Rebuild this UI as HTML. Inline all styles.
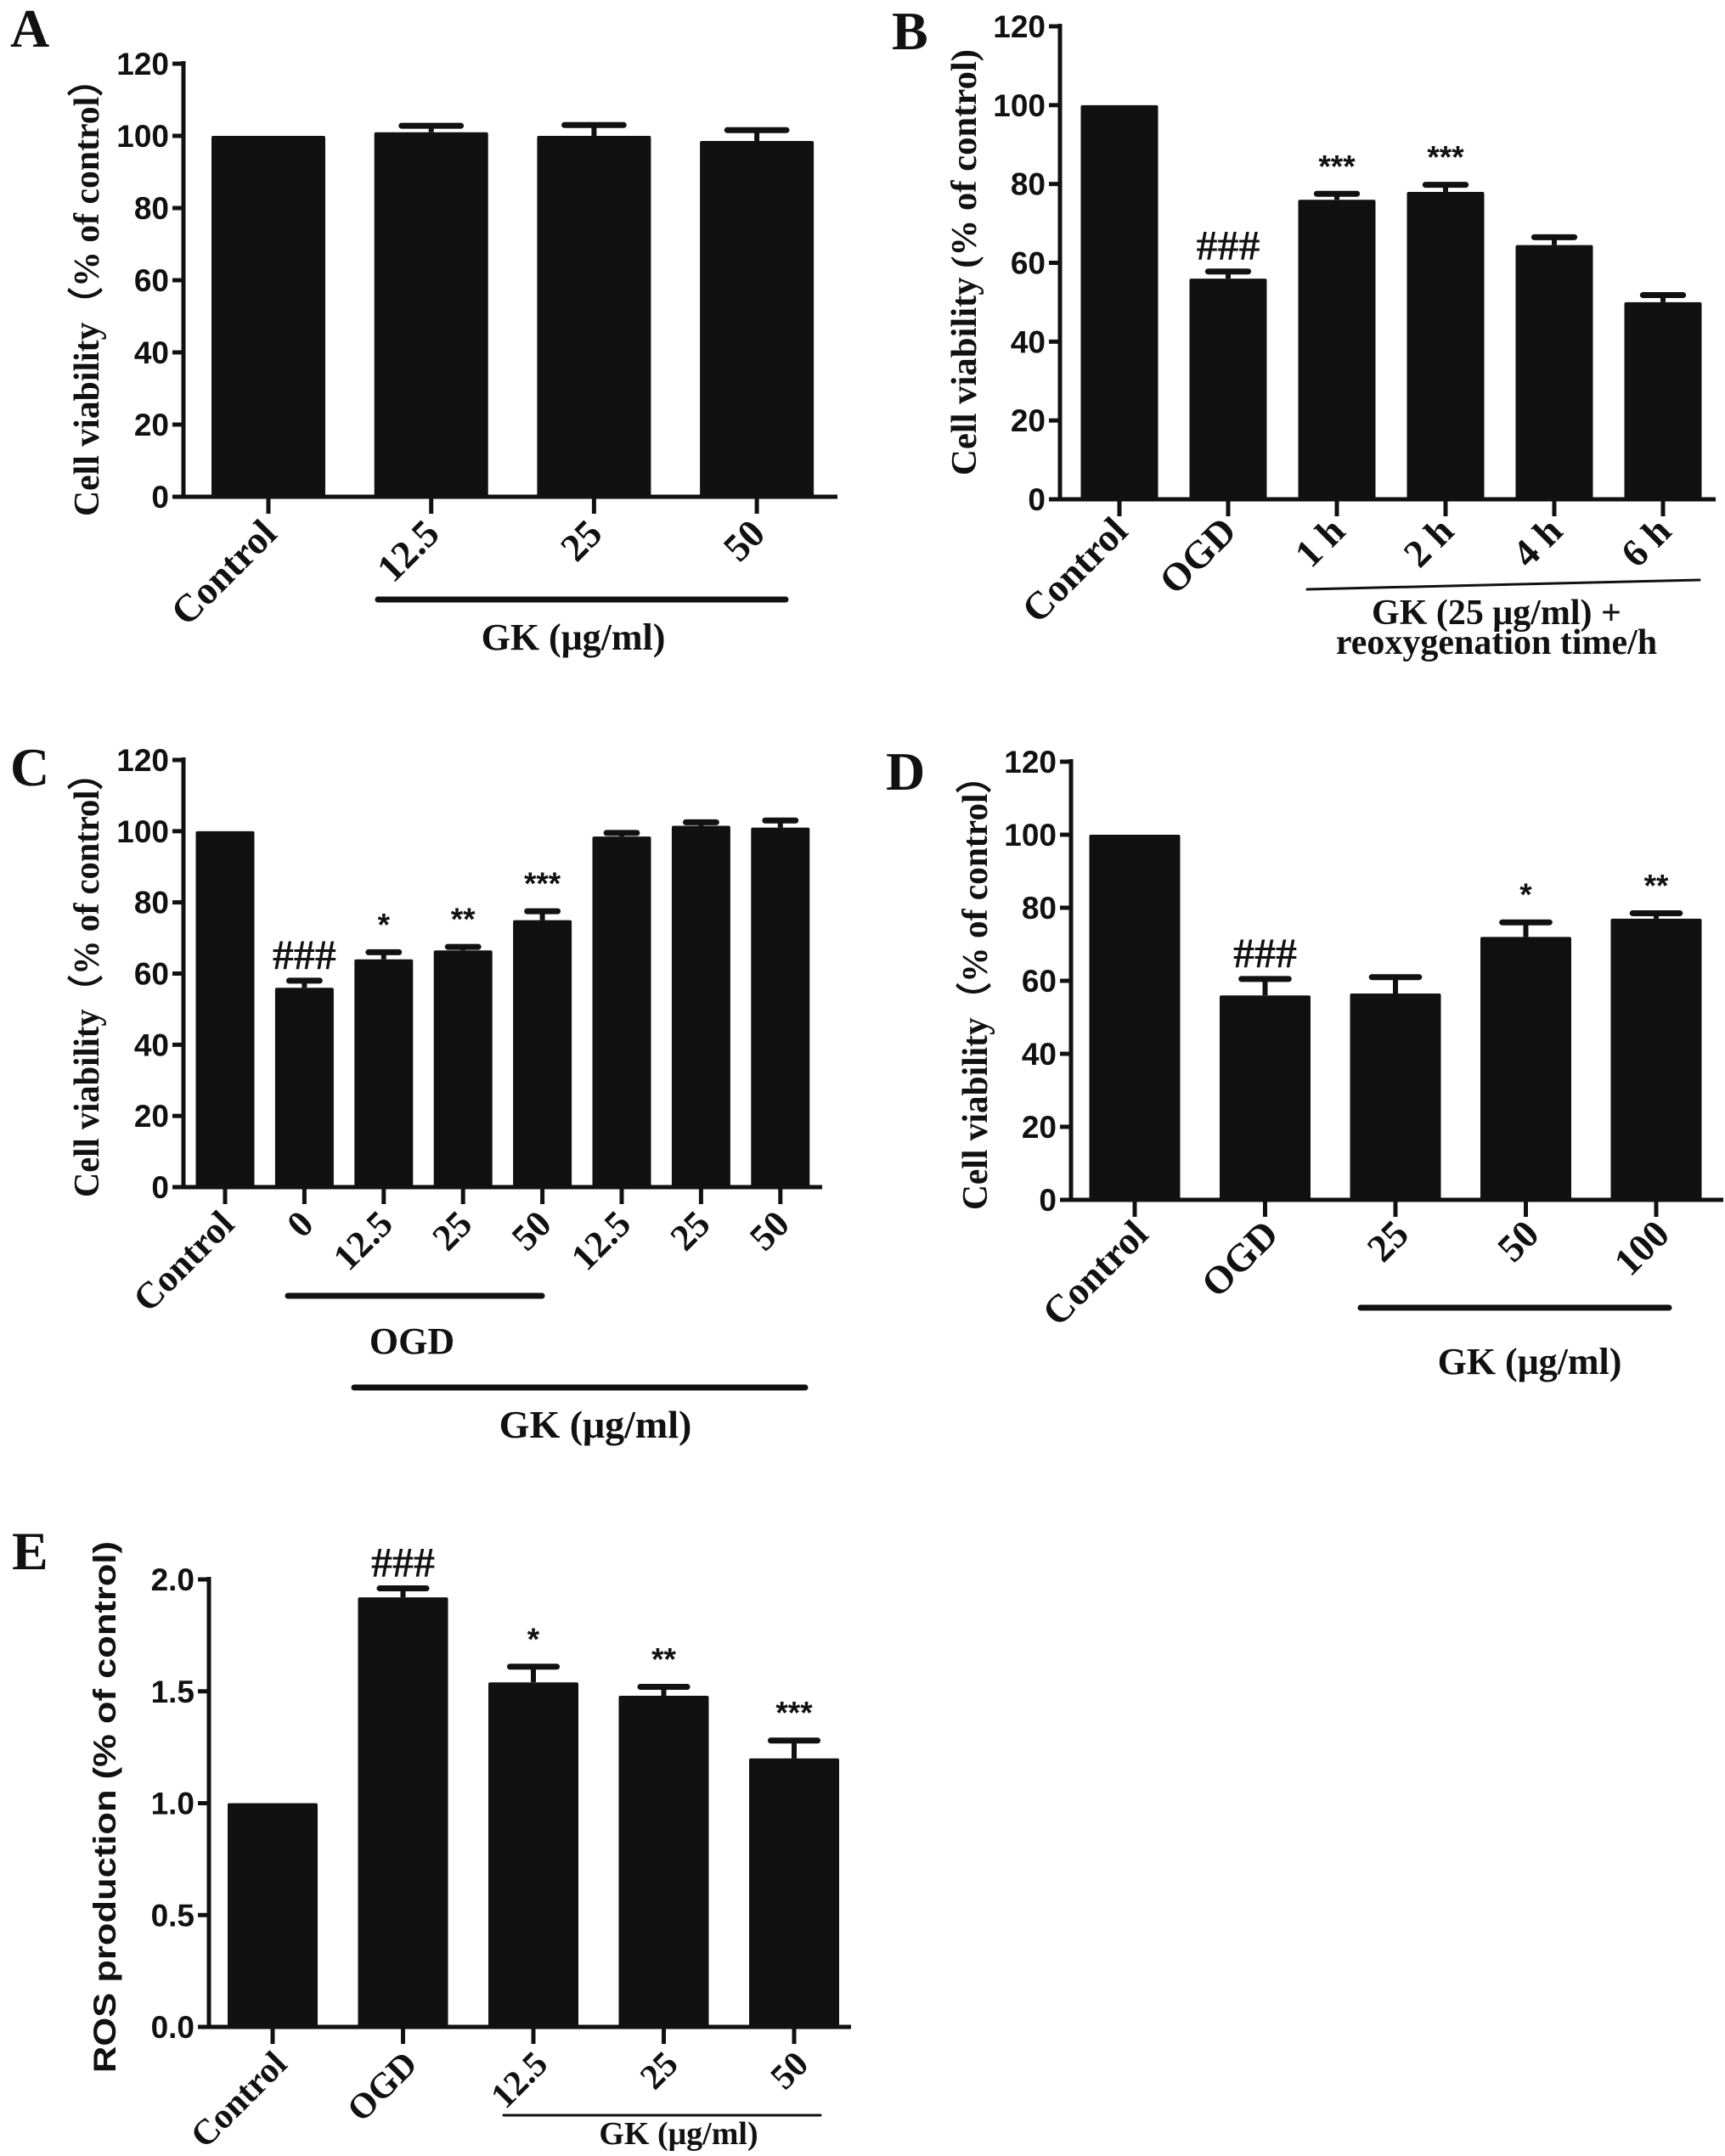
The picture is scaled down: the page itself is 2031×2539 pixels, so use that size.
<!DOCTYPE html>
<html><head><meta charset="utf-8">
<style>
html,body{margin:0;padding:0;background:#fff;}
svg{display:block;}
.tk{font-family:"Liberation Sans",Arial,sans-serif;font-weight:bold;font-size:37px;fill:#111;}
.sr{font-family:"Liberation Serif","Times New Roman",serif;font-weight:bold;fill:#111;}
</style></head>
<body>
<svg id="fig" width="2031" height="2539" viewBox="0 0 2031 2539" xmlns="http://www.w3.org/2000/svg"></svg>
<script>
// Panel A
const catsA=["Control","12.5","25","50"];
const valsA=[100,101,100,98.6];
const errsA=[0,1.8,3,3];
const annA=["","","",""];
// Panel B
const catsB=["Control","OGD","1 h","2 h","4 h","6 h"];
const valsB=[100,56,76,78,64.5,50];
const errsB=[0,1.8,1.5,1.8,2,1.8];
const annB=["","###","***","***","",""];
// Panel C
const catsC=["Control","0","12.5","25","50","12.5","25","50"];
const valsC=[100,56,64,66.5,75,98.5,101.5,101];
const errsC=[0,2,2,1,2.5,1,1,2];
const annC=["","###","*","**","***","","",""];
// Panel D
const catsD=["Control","OGD","25","50","100"];
const valsD=[100,56,56.5,72,77];
const errsD=[0,4.5,4.5,4,1.5];
const annD=["","###","","*","**"];
// Panel E
const catsE=["Control","OGD","12.5","25","50"];
const valsE=[1.0,1.92,1.54,1.48,1.2];
const errsE=[0,0.04,0.07,0.04,0.08];
const annE=["","###","*","**","***"];
const ticksV=[0,20,40,60,80,100,120];
const ticksE=["0.0","0.5","1.0","1.5","2.0"];

const NS="http://www.w3.org/2000/svg";
const svg=document.getElementById('fig');
function mk(tag,attrs,parent,txt){const e=document.createElementNS(NS,tag);for(const k in attrs)e.setAttribute(k,attrs[k]);if(txt!==undefined)e.textContent=txt;(parent||svg).appendChild(e);return e;}

function panel(p){
  const g=mk('g',{});
  
  
  const y=v=>p.y0-(v-p.vmin)/(p.vmax-p.vmin)*(p.y0-p.ytop);
  const x=i=>p.x0c+i*p.step;
  p.vals.forEach((v,i)=>{
    const r=mk('rect',{x:x(i)-p.bw/2,y:y(v),width:p.bw,height:p.y0-y(v),fill:'#111',rx:2},g);
    
    
    if(p.errs[i]>0){
      const e=mk('g',{},g);
      
      
      mk('line',{x1:x(i),x2:x(i),y1:y(v),y2:y(v+p.errs[i]),stroke:'#111','stroke-width':6},e);
      mk('line',{x1:x(i)-p.bw*0.26,x2:x(i)+p.bw*0.26,y1:y(v+p.errs[i]),y2:y(v+p.errs[i]),stroke:'#111','stroke-width':7,'stroke-linecap':'round'},e);
    }
    if(p.ann[i]){
      const top=y(v+p.errs[i]);
      const isHash=p.ann[i][0]==='#';
      const t=mk('text',{x:x(i),y:isHash?top-14:top-20,'text-anchor':'middle',class:isHash?'sr':'tk','font-size':isHash?50:76},g,p.ann[i]);
      
      
    }
  });
  const ax=mk('g',{},g);
  
  
  mk('line',{x1:p.ax,x2:p.ax,y1:p.ytop-3,y2:p.y0+2,stroke:'#111','stroke-width':5},ax);
  mk('line',{x1:p.ax-2,x2:p.axEnd,y1:p.y0,y2:p.y0,stroke:'#111','stroke-width':5},ax);
  p.ticks.forEach((t,k)=>{
    const v=p.vmin+k*(p.vmax-p.vmin)/(p.ticks.length-1);
    mk('line',{x1:p.ax-13,x2:p.ax,y1:y(v),y2:y(v),stroke:'#111','stroke-width':5},ax);
    const tl=mk('text',{x:p.ax-17,y:y(v)+13,'text-anchor':'end',class:'tk'},ax,t);
    
    
  });
  p.cats.forEach((c,i)=>{
    mk('line',{x1:x(i),x2:x(i),y1:p.y0,y2:p.y0+20,stroke:'#111','stroke-width':5},ax);
    const ex=x(i)+p.lx, ey=p.y0+p.ly;
    const tl=mk('text',{x:ex,y:ey,'text-anchor':'end',class:'sr','font-size':p.lfs,transform:`rotate(-45 ${ex} ${ey})`},ax,c);
    
    
  });
  const cy=(p.tyA+p.tyB)/2;
  const yt=mk('text',{x:p.tx,y:cy,'text-anchor':'middle',class:p.tsans?'tk':'sr','font-size':p.tfs,transform:`rotate(-90 ${p.tx} ${cy})`,textLength:p.tyB-p.tyA,lengthAdjust:'spacingAndGlyphs'},g,p.title);
  
  
  const lt=mk('text',{x:p.lxp,y:p.lyp,class:'sr','font-size':64},g,p.id);
  
  
  return g;
}
function hline(x1,y1,x2,y2,w,name){const l=mk('line',{x1,y1,x2,y2,stroke:'#111','stroke-width':w,'stroke-linecap':'round'});
  
  }
function label(x,y,s,fs,name){const t=mk('text',{x,y,'text-anchor':'middle',class:'sr','font-size':fs},svg,s);
  
  }

panel({id:'A',cats:catsA,vals:valsA,errs:errsA,ann:annA,ticks:ticksV,vmin:0,vmax:120,y0:585,ytop:75,ax:216,axEnd:986,x0c:316,step:191.7,bw:134,lx:12,ly:46,lfs:46,tx:116,tyA:72,tyB:608,tfs:42,title:'Cell viability（% of control）',lxp:12,lyp:55});
hline(445,706,925,706,7,'gk-group-line');
label(675,765,'GK (μg/ml)',44,'x-group-label');

panel({id:'B',cats:catsB,vals:valsB,errs:errsB,ann:annB,ticks:ticksV,vmin:0,vmax:120,y0:588,ytop:31,ax:1248,axEnd:2020,x0c:1318,step:128,bw:91,lx:12,ly:40,lfs:46,tx:1149,tyA:58,tyB:560,tfs:42,title:'Cell viability (% of control)',lxp:1050,lyp:58});
hline(1539,694,2001,683,3,'gk-group-line');
label(1762,735,'GK (25 μg/ml) +',42,'x-group-label');
label(1762,770,'reoxygenation time/h',42,'x-group-label');

panel({id:'C',cats:catsC,vals:valsC,errs:errsC,ann:annC,ticks:ticksV,vmin:0,vmax:120,y0:1398,ytop:895,ax:216,axEnd:968,x0c:265,step:93.4,bw:69,lx:13,ly:46,lfs:44,tx:116,tyA:890,tyB:1410,tfs:42,title:'Cell viability（% of control）',lxp:12,lyp:925});
hline(339,1526,638,1526,7,'ogd-group-line');
label(485,1594,'OGD',44,'ogd-group-label');
hline(417,1634,948,1634,7,'gk-group-line');
label(701,1693,'GK (μg/ml)',46,'x-group-label');

panel({id:'D',cats:catsD,vals:valsD,errs:errsD,ann:annD,ticks:ticksV,vmin:0,vmax:120,y0:1413,ytop:897,ax:1261,axEnd:2029,x0c:1336,step:153.5,bw:107,lx:18,ly:43,lfs:46,tx:1162,tyA:893,tyB:1425,tfs:42,title:'Cell viability（% of control）',lxp:1043,lyp:930});
hline(1602,1540,1965,1540,7,'gk-group-line');
label(1801,1618,'GK (μg/ml)',44,'x-group-label');

panel({id:'E',cats:catsE,vals:valsE,errs:errsE,ann:annE,ticks:ticksE,vmin:0,vmax:2,y0:2387,ytop:1860,ax:246,axEnd:1002,x0c:321,step:153.5,bw:106,lx:19,ly:46,lfs:42,tx:136,tyA:1815,tyB:2441,tfs:48,tsans:true,title:'ROS production (%  of control)',lxp:14,lyp:1848});
hline(593,2491,966,2491,3,'gk-group-line');
label(799,2525,'GK (μg/ml)',38,'x-group-label');
</script>
</body></html>
